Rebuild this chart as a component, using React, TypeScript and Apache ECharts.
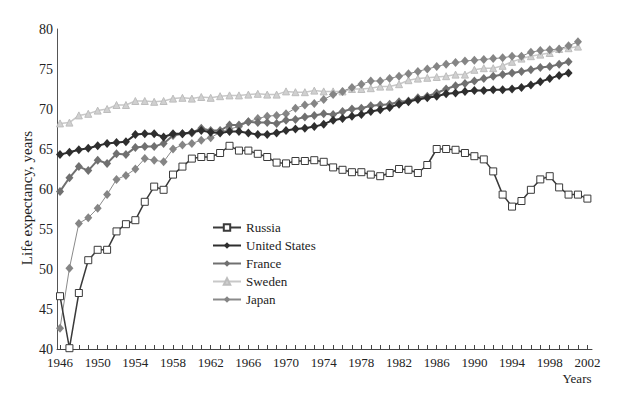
import React, { useEffect, useRef } from "react";
import * as echarts from "echarts";

const START_YEAR = 1946;
const X_LABEL_YEARS = [1946, 1950, 1954, 1958, 1962, 1966, 1970, 1974, 1978, 1982, 1986, 1990, 1994, 1998, 2002];
const Y_TICKS = [40, 45, 50, 55, 60, 65, 70, 75, 80];

const russia = [46.6, 40.1, 47.0, 51.1, 52.4, 52.4, 54.7, 55.6, 56.1, 58.4, 60.3, 59.9, 61.8, 62.8, 63.8, 64.0, 64.0, 64.5, 65.4, 64.8, 64.8, 64.4, 64.0, 63.3, 63.2, 63.5, 63.5, 63.6, 63.4, 62.7, 62.4, 62.1, 62.1, 61.8, 61.6, 62.0, 62.5, 62.4, 62.0, 63.0, 65.0, 65.0, 64.9, 64.5, 64.1, 63.7, 62.2, 59.3, 57.8, 58.5, 59.9, 61.2, 61.6, 60.2, 59.3, 59.3, 58.8];
const unitedStates = [64.3, 64.6, 64.9, 65.1, 65.4, 65.7, 65.8, 65.9, 66.8, 66.9, 66.9, 66.5, 66.9, 66.9, 67.1, 67.3, 67.1, 67.0, 67.2, 67.2, 67.0, 66.8, 66.8, 67.0, 67.3, 67.5, 67.6, 67.8, 68.1, 68.6, 68.8, 69.1, 69.3, 69.7, 69.9, 70.2, 70.6, 70.9, 71.2, 71.4, 71.6, 71.9, 72.0, 72.2, 72.3, 72.3, 72.4, 72.4, 72.5, 72.7, 73.0, 73.4, 73.8, 74.2, 74.5];
const france = [59.7, 61.4, 62.8, 62.3, 63.6, 63.2, 64.4, 64.3, 65.2, 65.3, 65.3, 65.7, 66.7, 66.9, 67.0, 67.6, 67.3, 67.3, 68.0, 68.0, 68.4, 68.3, 68.3, 68.2, 68.6, 68.7, 69.0, 69.2, 69.4, 69.3, 69.7, 70.0, 70.1, 70.4, 70.5, 70.6, 70.9, 71.0, 71.4, 71.6, 72.0, 72.5, 72.9, 73.2, 73.5, 73.8, 74.1, 74.3, 74.5, 74.7, 74.9, 75.2, 75.3, 75.6, 75.9];
const sweden = [68.2, 68.3, 69.2, 69.4, 69.8, 70.0, 70.5, 70.5, 71.0, 71.0, 70.9, 71.0, 71.3, 71.4, 71.3, 71.5, 71.4, 71.6, 71.7, 71.7, 71.8, 71.9, 71.8, 71.8, 72.2, 72.1, 72.1, 72.3, 72.2, 72.2, 72.2, 72.5, 72.5, 72.6, 72.8, 72.8, 73.1, 73.6, 73.8, 73.9, 74.0, 74.1, 74.3, 74.3, 74.9, 75.1, 75.1, 75.4, 75.9, 76.3, 76.6, 76.8, 77.0, 77.5, 77.6, 77.8];
const japan = [42.6, 50.1, 55.7, 56.4, 57.6, 59.3, 61.2, 61.7, 62.5, 63.8, 63.6, 63.4, 65.0, 65.5, 65.7, 66.1, 66.4, 67.1, 67.5, 67.8, 68.4, 68.8, 69.1, 69.2, 69.4, 70.1, 70.5, 70.7, 71.2, 71.8, 72.2, 72.7, 73.1, 73.5, 73.5, 73.8, 74.1, 74.4, 74.7, 75.0, 75.3, 75.6, 75.8, 76.0, 76.1, 76.2, 76.3, 76.4, 76.6, 76.6, 77.1, 77.3, 77.4, 77.5, 77.9, 78.4];

const SERIES_NAMES = ["Russia", "United States", "France", "Sweden", "Japan"];

const FONT = "Liberation Serif";

function toPairs(values: number[]) {
  return values.map((v, i) => [START_YEAR + i, v]);
}

export default function App() {
  const ref = useRef<HTMLDivElement>(null);

  useEffect(() => {
    if (!ref.current) return;
    const chart = echarts.init(ref.current, undefined, { renderer: "svg" });
    const lastYear = X_LABEL_YEARS[X_LABEL_YEARS.length - 1];
    const tickYears: number[] = [];
    for (let y = START_YEAR; y <= lastYear; y++) tickYears.push(y);

    const option: any = {
      animation: false,
      backgroundColor: "#ffffff",
      textStyle: { fontFamily: FONT },
      grid: { left: 57, right: 31, top: 29, bottom: 50, containLabel: false },
      xAxis: {
        type: "value",
        min: 1945.68,
        max: 2002.49,
        axisLine: { show: true, lineStyle: { color: "#444", width: 1 } },
        axisTick: { show: true, inside: true, length: 4, customValues: tickYears, lineStyle: { color: "#444" } },
        axisLabel: {
          customValues: X_LABEL_YEARS,
          formatter: (v: number) => String(Math.round(v)),
          color: "#222",
          fontFamily: FONT,
          fontSize: 13,
          margin: 7,
        },
        splitLine: { show: false },
      },
      yAxis: {
        type: "value",
        min: 40,
        max: 80,
        interval: 5,
        axisLine: { show: true, lineStyle: { color: "#555", width: 1 } },
        axisTick: { show: false },
        axisLabel: {
          customValues: Y_TICKS,
          formatter: (v: number) => String(v),
          color: "#222",
          fontFamily: FONT,
          fontSize: 14,
          margin: 4,
        },
        splitLine: { show: false },
      },
      legend: {
        orient: "vertical",
        left: 207,
        top: 216,
        itemWidth: 28,
        itemHeight: 8,
        itemGap: 5,
        data: SERIES_NAMES,
        textStyle: { color: "#222", fontFamily: FONT, fontSize: 13 },
      },
      graphic: [
        {
          type: "text",
          x: 27,
          y: 198,
          rotation: Math.PI / 2,
          style: {
            text: "Life expectancy, years",
            font: "15px 'Liberation Serif'",
            fill: "#222",
            textAlign: "center",
            textVerticalAlign: "middle",
          },
        },
        {
          type: "text",
          x: 577,
          y: 378,
          style: {
            text: "Years",
            font: "13px 'Liberation Serif'",
            fill: "#222",
            textAlign: "center",
            textVerticalAlign: "middle",
          },
        },
      ],
      series: [
        {
          name: "Sweden",
          type: "line",
          data: toPairs(sweden),
          symbol: "triangle",
          symbolSize: 7,
          lineStyle: { color: "#c8c8c8", width: 1.5 },
          itemStyle: { color: "#d0d0d0", borderColor: "#bdbdbd", borderWidth: 1 },
          z: 2,
        },
        {
          name: "Japan",
          type: "line",
          data: toPairs(japan),
          symbol: "diamond",
          symbolSize: [8, 9],
          lineStyle: { color: "#8a8a8a", width: 1 },
          itemStyle: { color: "#858585" },
          z: 3,
        },
        {
          name: "France",
          type: "line",
          data: toPairs(france),
          symbol: "diamond",
          symbolSize: [8, 9],
          lineStyle: { color: "#707070", width: 2 },
          itemStyle: { color: "#707070" },
          z: 4,
        },
        {
          name: "United States",
          type: "line",
          data: toPairs(unitedStates),
          symbol: "diamond",
          symbolSize: [8, 9],
          lineStyle: { color: "#2e2e2e", width: 2 },
          itemStyle: { color: "#2e2e2e" },
          z: 5,
        },
        {
          name: "Russia",
          type: "line",
          data: toPairs(russia),
          symbol: "rect",
          symbolSize: 7,
          lineStyle: { color: "#3a3a3a", width: 1.5 },
          itemStyle: { color: "#ffffff", borderColor: "#3a3a3a", borderWidth: 1 },
          z: 6,
        },
      ],
    };
    chart.setOption(option);
    return () => chart.dispose();
  }, []);

  return (
    <div
      ref={ref}
      style={{ position: "absolute", left: 0, top: 0, width: 623, height: 399, background: "#fff" }}
    />
  );
}
